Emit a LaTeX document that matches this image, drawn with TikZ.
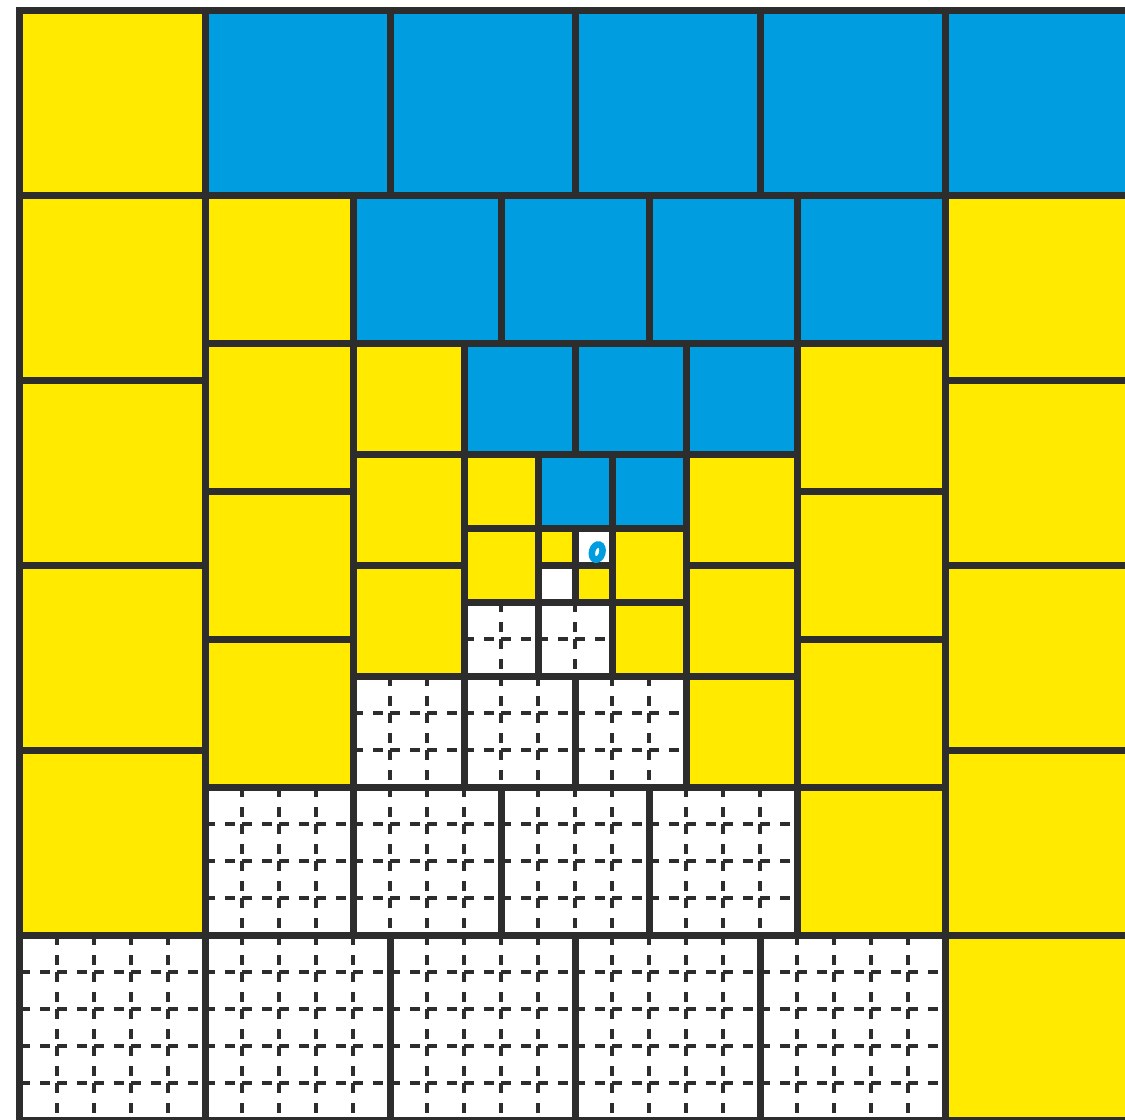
\documentclass[tikz,border=0pt]{standalone}
\definecolor{yel}{RGB}{255,234,0}
\definecolor{blu}{RGB}{0,158,224}
\definecolor{edge}{RGB}{45,45,45}
\tikzset{
  cell/.style={draw=edge, line width=0.14cm, line join=miter},
  gridline/.style={draw=edge, line width=0.08cm, dash pattern=on 0.2cm off 0.2cm on 0.2cm off 0.14cm},
  bluering/.style={draw=blu, line width=0.13cm}
}
\begin{document}
\begin{tikzpicture}[x=0.74cm,y=-0.74cm]
\useasboundingbox (-20/37,-10/37) rectangle (1105/37,1109/37);
\clip (-20/37,-10/37) rectangle (1105/37,1109/37);
\fill[white] (-20/37,-10/37) rectangle (1105/37,1109/37);
% yellow squares
\foreach \i/\j/\s in {0/0/5,0/5/5,0/10/5,0/15/5,0/20/5,25/5/5,25/10/5,25/15/5,25/20/5,25/25/5,
  5/5/4,5/9/4,5/13/4,5/17/4,21/9/4,21/13/4,21/17/4,21/21/4,
  9/9/3,9/12/3,9/15/3,18/12/3,18/15/3,18/18/3,
  12/12/2,12/14/2,16/14/2,16/16/2,
  14/14/1,15/15/1}
  \fill[yel] (\i,\j) rectangle ++(\s,\s);
% blue squares
\foreach \i/\j/\s in {5/0/5,10/0/5,15/0/5,20/0/5,25/0/5,
  9/5/4,13/5/4,17/5/4,21/5/4,
  12/9/3,15/9/3,18/9/3,
  14/12/2,16/12/2}
  \fill[blu] (\i,\j) rectangle ++(\s,\s);
% dashed grids in white squares
\foreach \i/\j/\s in {0/25/5,5/25/5,10/25/5,15/25/5,20/25/5,
  5/21/4,9/21/4,13/21/4,17/21/4,
  9/18/3,12/18/3,15/18/3,
  12/16/2,14/16/2}{
  \pgfmathtruncatemacro\mm{\s-1}
  \foreach \k in {1,...,\mm}{
    \draw[gridline] (\i,\j+\k) -- (\i+\s,\j+\k);
    \draw[gridline] (\i+\k,\j) -- (\i+\k,\j+\s);
  }
}
% borders of all squares
\foreach \i/\j/\s in {0/0/5,0/5/5,0/10/5,0/15/5,0/20/5,25/5/5,25/10/5,25/15/5,25/20/5,25/25/5,
  5/5/4,5/9/4,5/13/4,5/17/4,21/9/4,21/13/4,21/17/4,21/21/4,
  9/9/3,9/12/3,9/15/3,18/12/3,18/15/3,18/18/3,
  12/12/2,12/14/2,16/14/2,16/16/2,
  14/14/1,15/15/1,
  5/0/5,10/0/5,15/0/5,20/0/5,25/0/5,
  9/5/4,13/5/4,17/5/4,21/5/4,
  12/9/3,15/9/3,18/9/3,
  14/12/2,16/12/2,
  0/25/5,5/25/5,10/25/5,15/25/5,20/25/5,
  5/21/4,9/21/4,13/21/4,17/21/4,
  9/18/3,12/18/3,15/18/3,
  12/16/2,14/16/2,
  14/15/1,15/14/1}
  \draw[cell] (\i,\j) rectangle ++(\s,\s);
% small blue mark in the centre square
\draw[bluering, rotate around={-15:(15.6,14.65)}] (15.6,14.65) ellipse [x radius=0.14, y radius=0.21];
\end{tikzpicture}
\end{document}
